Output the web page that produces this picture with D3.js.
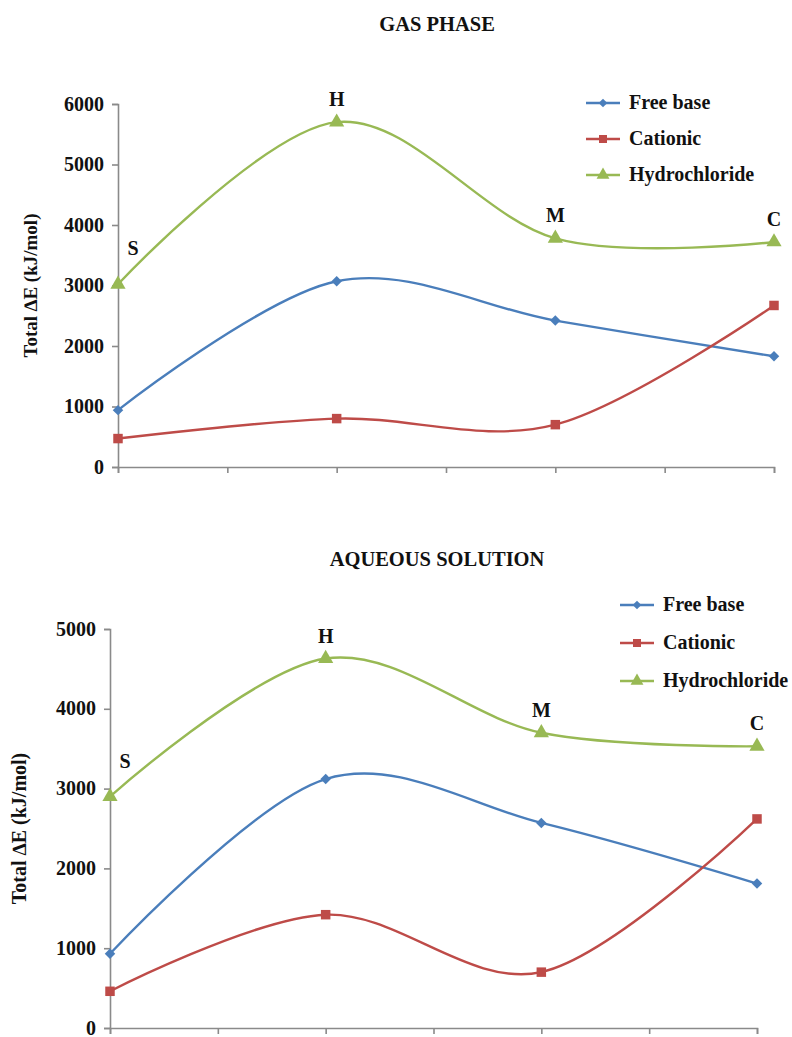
<!DOCTYPE html>
<html>
<head>
<meta charset="utf-8">
<script src="https://cdn.jsdelivr.net/npm/d3@7"></script>
<style>
  body { margin: 0; background: #fff; }
  svg { display: block; }
  text { font-family: "Liberation Serif", "Times New Roman", serif; font-weight: bold; fill: #111; }
</style>
</head>
<body>
<svg id="chart" width="792" height="1037"></svg>
<script>
// ---- data ----
const categories = ["S", "H", "M", "C"];
const seriesNames = ["Free base", "Cationic", "Hydrochloride"];
const seriesColors = ["#4a7ebb", "#be4b48", "#98b954"];

const gasFreeBase = [940, 3070, 2420, 1830];
const gasCationic = [470, 800, 700, 2670];
const gasHydrochloride = [3020, 5700, 3780, 3720];
const gasTicks = [0, 1000, 2000, 3000, 4000, 5000, 6000];

const aqFreeBase = [930, 3120, 2570, 1810];
const aqCationic = [460, 1420, 700, 2620];
const aqHydrochloride = [2900, 4630, 3700, 3530];
const aqTicks = [0, 1000, 2000, 3000, 4000, 5000];

const panels = [
  { title: "GAS PHASE", titleY: 31, series: [gasFreeBase, gasCationic, gasHydrochloride], ticks: gasTicks,
    x0: 118, x1: 774, y0: 467, y1: 104, ytitleX: 37, ytitleSize: 19, legendX: 586, legendY: 103, legendGap: 36 },
  { title: "AQUEOUS SOLUTION", titleY: 566, series: [aqFreeBase, aqCationic, aqHydrochloride], ticks: aqTicks,
    x0: 110, x1: 757, y0: 1028, y1: 629, ytitleX: 26, ytitleSize: 20, legendX: 620, legendY: 605, legendGap: 38 }
];

const svg = d3.select("#chart");
svg.append("rect").attr("width", 792).attr("height", 1037).attr("fill", "#fff");

// wide diamond (square rotated 45deg), square, triangle
const symbolTypes = [d3.symbolSquare, d3.symbolSquare, d3.symbolTriangle];
const symbolRotate = [45, 0, 0];
const symbolSizes = [55, 90, 100];
const legendSymbolSizes = [38, 64, 72];

panels.forEach(p => {
  const g = svg.append("g");
  const yMax = p.ticks[p.ticks.length - 1];
  const y = d3.scaleLinear().domain([0, yMax]).range([p.y0, p.y1]);
  const x = d3.scalePoint().domain(categories).range([p.x0, p.x1]);
  const xTick = d3.scaleLinear().domain([0, 6]).range([p.x0, p.x1]);

  // title
  g.append("text").attr("x", 437).attr("y", p.titleY).attr("text-anchor", "middle")
    .style("font-size", "20.5px").text(p.title);

  // y axis
  const yAxis = g.append("g").attr("transform", `translate(${p.x0},0)`)
    .call(d3.axisLeft(y).tickValues(p.ticks).tickFormat(d3.format("d")).tickSize(6).tickPadding(8));
  yAxis.selectAll("path, line").attr("stroke", "#8a8a8a").attr("stroke-width", 1.6);
  yAxis.selectAll("text").style("font-size", "20px").style("font-family", '"Liberation Serif", serif')
    .style("font-weight", "bold").attr("fill", "#111").attr("dy", "0.3em");

  // x axis
  const xAxis = g.append("g").attr("transform", `translate(0,${p.y0})`)
    .call(d3.axisBottom(xTick).tickValues(d3.range(7)).tickFormat("").tickSize(6).tickSizeOuter(6));
  xAxis.selectAll("path, line").attr("stroke", "#8a8a8a").attr("stroke-width", 1.6);

  // y title
  g.append("text")
    .attr("transform", `translate(${p.ytitleX},${(p.y0 + p.y1) / 2}) rotate(-90)`)
    .attr("text-anchor", "middle").style("font-size", p.ytitleSize + "px")
    .text("Total \u2206E (kJ/mol)");

  // lines
  const line = d3.line()
    .x((d, i) => x(categories[i]))
    .y(d => y(d))
    .curve(d3.curveCardinal.tension(0));

  p.series.forEach((s, si) => {
    g.append("path").datum(s).attr("d", line)
      .attr("fill", "none").attr("stroke", seriesColors[si]).attr("stroke-width", 2.4);
  });
  p.series.forEach((s, si) => {
    g.selectAll(null).data(s).enter().append("path")
      .attr("d", d3.symbol().type(symbolTypes[si]).size(symbolSizes[si]))
      .attr("transform", (d, i) => `translate(${x(categories[i])},${y(d)}) rotate(${symbolRotate[si]})`)
      .attr("fill", seriesColors[si]);
  });

  // category labels above hydrochloride points
  const hyd = p.series[2];
  g.selectAll(null).data(categories).enter().append("text")
    .attr("x", (c, i) => x(c) + (i === 0 ? 15 : 0))
    .attr("y", (c, i) => y(hyd[i]) - (i === 0 ? 29 : 16))
    .attr("text-anchor", "middle").style("font-size", "20px")
    .text(c => c);

  // legend
  seriesNames.forEach((name, si) => {
    const ly = p.legendY + si * p.legendGap;
    g.append("line").attr("x1", p.legendX).attr("x2", p.legendX + 34)
      .attr("y1", ly).attr("y2", ly).attr("stroke", seriesColors[si]).attr("stroke-width", 2.4);
    g.append("path").attr("d", d3.symbol().type(symbolTypes[si]).size(legendSymbolSizes[si]))
      .attr("transform", `translate(${p.legendX + 17},${ly}) rotate(${symbolRotate[si]})`).attr("fill", seriesColors[si]);
    g.append("text").attr("x", p.legendX + 43).attr("y", ly + 6)
      .style("font-size", "20px").text(name);
  });
});
</script>
</body>
</html>
